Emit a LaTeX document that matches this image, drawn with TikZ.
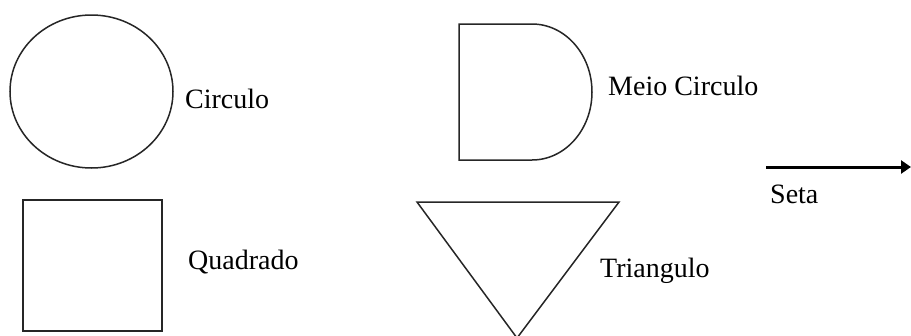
\documentclass[tikz,border=0pt]{standalone}
\usepackage{fontspec}
\setmainfont{Liberation Serif}
\usetikzlibrary{arrows.meta}
\begin{document}
\begin{tikzpicture}[x=1pt,y=-1pt,
  shapeline/.style={draw=black!85,line width=1.5pt},
  lbl/.style={anchor=base west,inner sep=0pt,font=\fontsize{28}{32}\selectfont}]
\useasboundingbox (0,0) rectangle (911,335);
\begin{scope}
\clip (0,0) rectangle (911,335);
% circle
\draw[shapeline] (91.5,91.5) ellipse [x radius=81.5, y radius=76.5];
% half circle
\draw[shapeline] (532,24) -- (459,24) -- (459,160) -- (532,160)
  arc[start angle=90, end angle=-90, x radius=60, y radius=68];
% square
\draw[shapeline,line width=2pt] (23,200) rectangle (162,331);
% triangle
\draw[shapeline] (417,202) -- (619,202) -- (517,338) -- cycle;
% arrow
\coordinate (a1) at (766,167);
\coordinate (a2) at (911,167);
\draw[line width=3pt,-{Triangle[length=10pt,width=13pt]}] (a1) -- (a2);
\end{scope}
\node[lbl] (c) at (185,108) {Circulo};
\node[lbl] (m) at (608,95) {Meio Circulo};
\node[lbl] (q) at (188,269) {Quadrado};
\node[lbl] (t) at (600,277) {Triangulo};
\node[lbl] (s) at (770,203) {Seta};
\end{tikzpicture}
\end{document}
